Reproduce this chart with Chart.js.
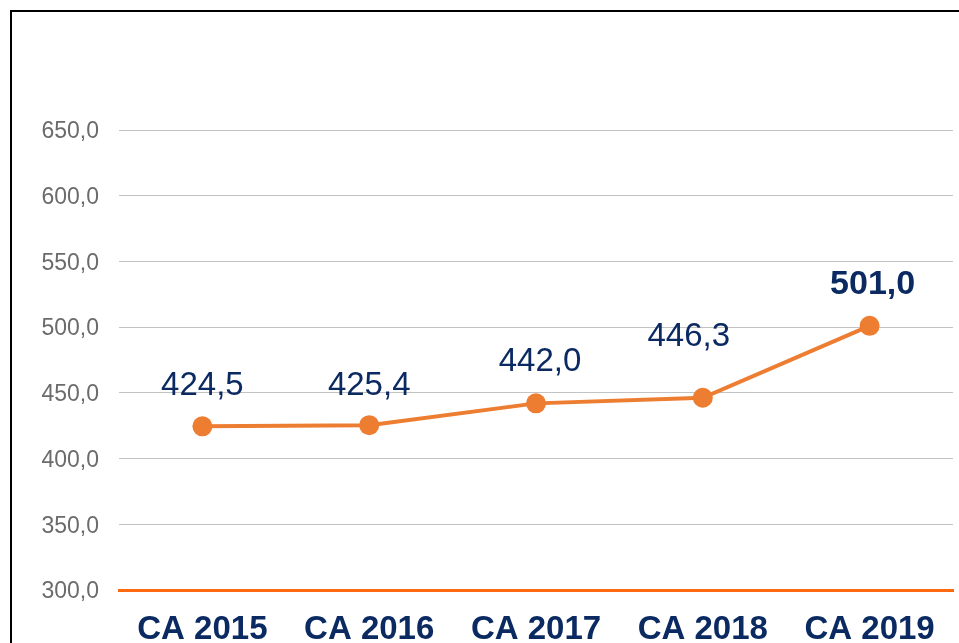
<!DOCTYPE html>
<html>
<head>
<meta charset="utf-8">
<script src="https://cdn.jsdelivr.net/npm/chart.js@4"></script>
<style>
    html, body { margin: 0; padding: 0; background: #ffffff; overflow: hidden; }
    #wrap { position: relative; width: 959px; height: 643px; }
    #frame { position: absolute; left: 10px; top: 10px; width: 2000px; height: 2000px; border: 2px solid #000000; }
    canvas { position: absolute; left: 0; top: 0; }
</style>
</head>
<body>
<div id="wrap">
    <div id="frame"></div>
    <canvas id="chart" width="959" height="643"></canvas>
</div>
<script>
const categories = ["CA 2015", "CA 2016", "CA 2017", "CA 2018", "CA 2019"];
const values = [424.5, 425.4, 442.0, 446.3, 501.0];
const yMin = 300;
const yMax = 650;
const yStep = 50;

const NAVY = "#0b2a62";
const ORANGE = "#ED7D31";
const FONT = '"Liberation Sans", Arial, sans-serif';

function fmt(v) {
    return v.toFixed(1).replace(".", ",");
}

// draws the value above each point (no datalabels plugin available offline)
const valueLabels = {
    id: "valueLabels",
    afterDatasetsDraw(chart, args, opts) {
        const ctx = chart.ctx;
        const meta = chart.getDatasetMeta(0);
        meta.data.forEach((pt, i) => {
            const off = opts.offsets[i] || { dx: 0, dy: -42 };
            ctx.save();
            ctx.font = (i === opts.boldIndex ? "bold 34px " : "33px ") + FONT;
            ctx.fillStyle = opts.color;
            ctx.textAlign = "center";
            ctx.textBaseline = "middle";
            ctx.fillText(fmt(values[i]), pt.x + off.dx, pt.y + off.dy);
            ctx.restore();
        });
    }
};

new Chart(document.getElementById("chart"), {
    type: "line",
    data: {
        labels: categories,
        datasets: [
            {
                data: values,
                borderColor: ORANGE,
                borderWidth: 4,
                backgroundColor: ORANGE,
                pointRadius: 10,
                pointBorderWidth: 0,
                pointBackgroundColor: ORANGE,
                tension: 0
            }
        ]
    },
    options: {
        responsive: false,
        animation: false,
        layout: {
            autoPadding: false,
            padding: { top: 130, right: 6, left: 0, bottom: 0 }
        },
        plugins: {
            legend: { display: false },
            tooltip: { enabled: false },
            valueLabels: {
                color: NAVY,
                boldIndex: 4,
                offsets: [
                    { dx: 0, dy: -40 },
                    { dx: 0, dy: -39 },
                    { dx: 4, dy: -41 },
                    { dx: -14, dy: -61 },
                    { dx: 3, dy: -41 }
                ]
            }
        },
        scales: {
            x: {
                offset: true,
                grid: { display: false, drawTicks: false },
                border: { display: true, color: "#FF6A10", width: 3 },
                ticks: {
                    color: NAVY,
                    padding: 20,
                    font: { family: FONT, size: 33, weight: "bold" }
                },
                afterFit: (s) => {
                    s.height = 53;
                    s.paddingLeft = 0;
                    s.paddingRight = 0;
                }
            },
            y: {
                min: yMin,
                max: yMax,
                grid: {
                    color: (c) => c.tick && c.tick.value === yMin ? "rgba(0,0,0,0)" : "#c3c3c3",
                    lineWidth: 1,
                    drawTicks: false
                },
                border: { display: false },
                ticks: {
                    stepSize: yStep,
                    color: "#6b6b6b",
                    padding: 20,
                    labelOffset: 2,
                    font: { family: FONT, size: 23 },
                    callback: (v) => fmt(v)
                },
                afterFit: (s) => { s.width = 119; }
            }
        }
    },
    plugins: [valueLabels]
});
</script>
</body>
</html>
